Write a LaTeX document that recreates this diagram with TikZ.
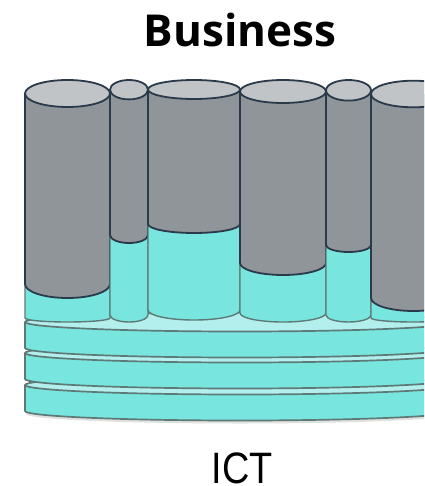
\documentclass[tikz,border=0pt]{standalone}
\usepackage{fontspec}
\setmainfont{Open Sans}
\newfontfamily\ictfont{Liberation Sans}
\definecolor{navyc}{HTML}{2B3A4B}
\definecolor{grayc}{HTML}{8F9598}
\definecolor{topc}{HTML}{C0C4C6}
\definecolor{cyanc}{HTML}{79E5DF}
\definecolor{lightc}{HTML}{B3EFEC}
\definecolor{edgec}{HTML}{5E7A77}
\newcommand\mydisk[1]{%
  \path[diskside] (25,#1) -- (25,{#1+26}) arc[start angle=180,end angle=0,x radius=215,y radius=9.5] -- (455,#1);
  \path[disktop] (240,#1) ellipse[x radius=215,y radius=9.5];
}
\newcommand\mycol[8]{%
  \pgfmathsetmacro\cxx{(#1+#2)/2}%
  \pgfmathsetmacro\rxx{(#2-#1)/2}%
  \path[colcyan] (#1,#3) -- (#1,#7) arc[start angle=180,end angle=0,x radius=\rxx,y radius=#8] -- (#2,#3);
  \path[colgray] (#1,#3) -- (#1,#5) arc[start angle=180,end angle=0,x radius=\rxx,y radius=#6] -- (#2,#3);
  \path[coltop] (\cxx,#3) ellipse[x radius=\rxx,y radius=#4];
}
\begin{document}
\begin{tikzpicture}[x=1pt,y=-1pt,
  diskside/.style={fill=cyanc,draw=edgec,line width=1.7pt},
  disktop/.style={fill=lightc,draw=edgec,line width=1.7pt},
  colcyan/.style={fill=cyanc,draw=edgec,line width=1.4pt},
  colgray/.style={fill=grayc,draw=navyc,line width=1.8pt},
  coltop/.style={fill=topc,draw=navyc,line width=1.8pt}]
\clip (0,0) rectangle (424,486);
\fill[white] (0,0) rectangle (424,486);
\fill[black!12] (240,{385+26+3}) ellipse[x radius=214,y radius=9.5];
\mydisk{385}
\mydisk{353}
\mydisk{322}
\mycol{25}{110}{93.5}{13.5}{284}{14}{318}{4}
\mycol{110}{148}{89.7}{9.7}{235}{8}{315}{7}
\mycol{148}{240}{89.5}{9.5}{224}{9}{310}{10}
\mycol{240}{326}{91.5}{11.5}{263}{12}{313}{9}
\mycol{326}{371}{90.3}{10.3}{245}{7}{315}{7}
\mycol{371}{456}{94}{13.3}{298}{13}{318}{4}
\node (biz) at (240,47) [anchor=base,inner sep=0pt,font=\bfseries\fontsize{44}{50}\selectfont] {Business};
\node (ict) at (242,483) [anchor=base,inner sep=0pt,font=\ictfont\fontsize{44}{48}\selectfont] {\scalebox{0.86}[1]{ICT}};
\end{tikzpicture}
\end{document}
